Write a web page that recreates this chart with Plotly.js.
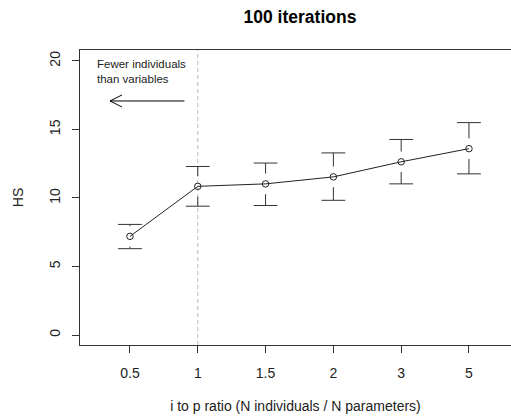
<!DOCTYPE html>
<html>
<head>
<meta charset="utf-8">
<script src="https://cdn.plot.ly/plotly-3.0.1.min.js"></script>
<style>html,body{margin:0;padding:0;background:#fff;}#chart{width:511px;height:418px;}</style>
</head>
<body>
<div id="chart"></div>
<script>
// Data
var ratios = ['0.5', '1', '1.5', '2', '3', '5'];
var hsMean = [7.2, 10.85, 11.03, 11.54, 12.64, 13.6];
var hsUpper = [8.07, 12.3, 12.55, 13.29, 14.27, 15.5];
var hsLower = [6.3, 9.4, 9.45, 9.83, 11.03, 11.76];
var annotationText = 'Fewer individuals<br>than variables';
var titleText = '100 iterations';
var xTitle = 'i to p ratio (N individuals / N parameters)';
var yTitle = 'HS';

var FONT = 'Liberation Sans, Arial, sans-serif';
var GAP = 0.75; // visual gap between point and error-bar stems (style)

var stemX = [], stemY = [];
for (var i = 0; i < ratios.length; i++) {
  var topStart = Math.min(hsMean[i] + GAP, hsUpper[i]);
  var botStart = Math.max(hsMean[i] - GAP, hsLower[i]);
  stemX.push(ratios[i], ratios[i], null, ratios[i], ratios[i], null);
  stemY.push(hsUpper[i], topStart, null, hsLower[i], botStart, null);
}

var traces = [
  {
    x: stemX, y: stemY, type: 'scatter', mode: 'lines',
    line: {color: '#333', width: 1}, hoverinfo: 'skip', connectgaps: false
  },
  {
    x: ratios.concat(ratios), y: hsUpper.concat(hsLower), type: 'scatter', mode: 'markers',
    marker: {symbol: 'line-ew', size: 17, line: {color: '#333', width: 1}}, hoverinfo: 'skip'
  },
  {
    x: ratios, y: hsMean, type: 'scatter', mode: 'lines+markers',
    line: {color: '#222', width: 1},
    marker: {symbol: 'circle-open', size: 6.5, color: '#222', line: {width: 1}}
  }
];

var layout = {
  width: 511, height: 418,
  margin: {l: 80, r: 0, t: 50, b: 73},
  paper_bgcolor: '#fff', plot_bgcolor: '#fff',
  showlegend: false,
  font: {family: FONT, size: 14, color: '#222'},
  title: {text: '<b>' + titleText + '</b>', font: {family: FONT, size: 17.5, color: '#000'},
          x: 0.587, xanchor: 'center', y: 0.96, yanchor: 'middle'},
  xaxis: {
    type: 'category', range: [-0.737, 5.62],
    showgrid: false, zeroline: false,
    showline: true, linecolor: '#333', linewidth: 1, mirror: true,
    ticks: 'outside', ticklen: 7, tickcolor: '#333', tickwidth: 1,
    ticklabelstandoff: 8,
    title: {text: xTitle, font: {family: FONT, size: 14, color: '#222'}, standoff: 21}
  },
  yaxis: {
    range: [-0.73, 20.8], tickvals: [0, 5, 10, 15, 20],
    showgrid: false, zeroline: false,
    showline: true, linecolor: '#333', linewidth: 1,
    ticks: 'outside', ticklen: 7, tickcolor: '#333', tickwidth: 1,
    tickangle: -90, ticklabelstandoff: 6,
    title: {text: yTitle, font: {family: FONT, size: 14, color: '#222'}, standoff: 20}
  },
  shapes: [
    {type: 'line', xref: 'x', yref: 'paper', x0: ratios[1], x1: ratios[1], y0: 0, y1: 1,
     line: {color: '#bbb', width: 1, dash: '4px,3px'}, layer: 'below'},
    {type: 'path', xref: 'x', yref: 'y', xsizemode: 'pixel', ysizemode: 'pixel',
     xanchor: -0.295, yanchor: 17.08, path: 'M 12,6 L 0,0 L 12,-6',
     line: {color: '#000', width: 1}}
  ],
  annotations: [
    {xref: 'x', yref: 'y', x: -0.295, y: 17.08, ax: 0.826, ay: 17.08,
     axref: 'x', ayref: 'y', showarrow: true, arrowhead: 0, arrowwidth: 1,
     arrowcolor: '#000', text: ''},
    {xref: 'paper', yref: 'paper', x: 0.035, y: 0.978, xanchor: 'left', yanchor: 'top',
     align: 'left', showarrow: false, text: annotationText,
     font: {family: FONT, size: 11.5, color: '#222'}}
  ]
};

Plotly.newPlot('chart', traces, layout, {displayModeBar: false, staticPlot: true});
</script>
</body>
</html>
